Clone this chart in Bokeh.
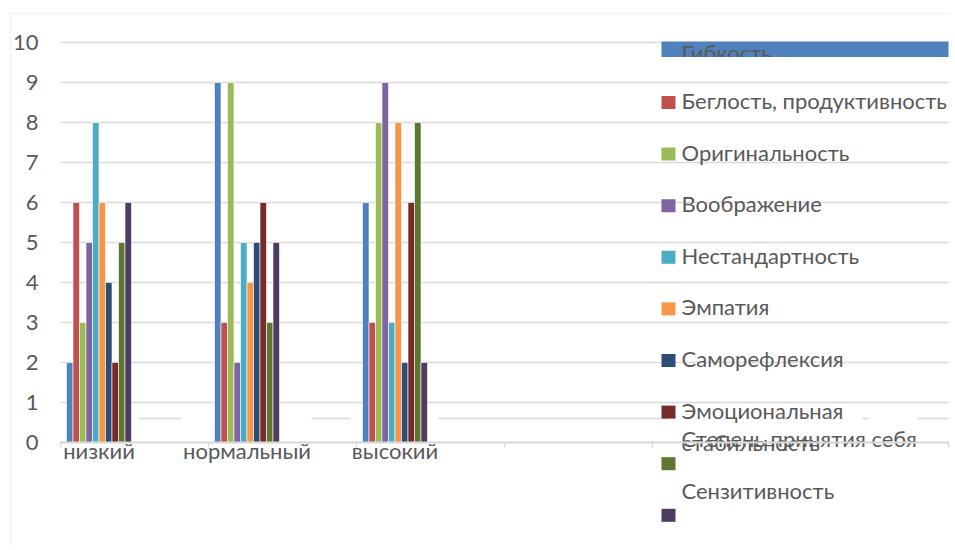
from bokeh.plotting import figure
from bokeh.models import Range1d, FixedTicker, BoxAnnotation, Label, ColumnDataSource
from bokeh.transform import dodge
from bokeh.embed import file_html
from bokeh.resources import INLINE

# ---------------- data ----------------
categories = ["низкий", "нормальный", "высокий"]
series_names = [
    "Гибкость",
    "Беглость, продуктивность",
    "Оригинальность",
    "Воображение",
    "Нестандартность",
    "Эмпатия",
    "Саморефлексия",
    "Эмоциональная стабильность",
    "Степень принятия себя",
    "Сензитивность",
]
gibkost = [2, 9, 6]
beglost = [6, 3, 3]
originalnost = [3, 9, 8]
voobrazhenie = [5, 2, 9]
nestandartnost = [8, 5, 3]
empatiya = [6, 4, 8]
samorefleksiya = [4, 5, 2]
emoc_stabilnost = [2, 6, 6]
prinyatie_sebya = [5, 3, 8]
senzitivnost = [6, 5, 2]
y_ticks = [0, 1, 2, 3, 4, 5, 6, 7, 8, 9, 10]

series_values = [gibkost, beglost, originalnost, voobrazhenie, nestandartnost,
                 empatiya, samorefleksiya, emoc_stabilnost, prinyatie_sebya, senzitivnost]
colors = ["#4F81BD", "#C0504D", "#9BBB59", "#8064A2", "#4BACC6",
          "#F79646", "#2C4D75", "#772C2A", "#5F7530", "#4D3B62"]

# ---------------- styling / layout ----------------
FONT = "Lato"
FS = "22px"
TXT = "#595959"
GRID = "#d9d9d9"

W, H = 950, 545
PLOT_LEFT, PLOT_RIGHT = 60, 948      # pixel extent of the plot area
ZERO_Y, PX_PER_UNIT = 442, 40.0      # pixel row of value 0, pixels per unit
FIRST_CAT_X, PX_PER_CAT = 98.5, 148.0


def dx(px):
    return (px - FIRST_CAT_X) / PX_PER_CAT


def dy(py):
    return (ZERO_Y - py) / PX_PER_UNIT


x_start, x_end = dx(0), dx(W)
y_start, y_end = dy(H), dy(0)
BAR_W = 6.5 / PX_PER_CAT

p = figure(width=W, height=H, output_backend="svg", toolbar_location=None,
           x_range=Range1d(x_start, x_end), y_range=Range1d(y_start, y_end),
           min_border_left=0, min_border_right=0, min_border_top=0, min_border_bottom=0)
p.outline_line_color = None
p.background_fill_color = "white"
p.border_fill_color = "white"
p.xgrid.visible = False
p.ygrid.visible = False

# gridlines limited to the plot area
p.segment(x0=[dx(PLOT_LEFT)] * len(y_ticks), x1=[dx(PLOT_RIGHT)] * len(y_ticks),
          y0=y_ticks, y1=y_ticks, line_color=GRID, line_width=1.6)

# stray rendering artefact lines of the original chart
artefact_px = [(138, 181), (311, 350), (438, 668), (862, 868), (917, 948)]
p.segment(x0=[dx(a) for a, b in artefact_px], x1=[dx(b) for a, b in artefact_px],
          y0=[dy(418)] * len(artefact_px), y1=[dy(418)] * len(artefact_px),
          line_color=GRID, line_width=1.6)

src = ColumnDataSource(dict(idx=list(range(len(categories))),
                            **{f"s{i}": v for i, v in enumerate(series_values)}))
n = len(series_names)
for i, (name, col) in enumerate(zip(series_names, colors)):
    off = (i - (n - 1) / 2) * BAR_W
    p.vbar(x=dodge("idx", off, range=p.x_range), top=f"s{i}", width=BAR_W, bottom=0,
           source=src, fill_color=col, line_color="white", line_width=0.6)

# y axis
p.yaxis.fixed_location = dx(PLOT_LEFT)
p.yaxis.bounds = (0, 10)
p.yaxis.ticker = FixedTicker(ticks=y_ticks)
p.yaxis.axis_line_color = None
p.yaxis.major_tick_line_color = None
p.yaxis.minor_tick_line_color = None
p.yaxis.major_label_standoff = 16
p.yaxis.major_label_text_font = FONT
p.yaxis.major_label_text_font_size = FS
p.yaxis.major_label_text_color = TXT

# x axis
boundaries = [dx(PLOT_LEFT) + k for k in range(7)]
p.xaxis.fixed_location = 0
p.xaxis.bounds = (dx(PLOT_LEFT), dx(PLOT_RIGHT))
p.xaxis.ticker = FixedTicker(ticks=list(range(len(categories))), minor_ticks=boundaries)
p.xaxis.major_label_overrides = {i: c for i, c in enumerate(categories)}
p.xaxis.axis_line_color = GRID
p.xaxis.axis_line_width = 2
p.xaxis.major_tick_line_color = None
p.xaxis.minor_tick_line_color = GRID
p.xaxis.minor_tick_line_width = 1.5
p.xaxis.minor_tick_out = 5
p.xaxis.minor_tick_in = 0
p.xaxis.major_label_standoff = -12
p.xaxis.major_label_text_font = FONT
p.xaxis.major_label_text_font_size = FS
p.xaxis.major_label_text_color = TXT
p.xaxis.level = "overlay"


def sy(py):
    return H - py


def box(left, right, top, bottom, **kw):
    return BoxAnnotation(left=left, right=right, top=sy(top), bottom=sy(bottom),
                         left_units="screen", right_units="screen",
                         top_units="screen", bottom_units="screen", **kw)


# chart border (light gray frame around the chart object)
p.add_layout(box(10, W + 50, 13, H + 50, fill_alpha=0, line_color=GRID, line_width=2,
                 level="underlay"))

# legend (drawn manually to reproduce the reference layout)
LEG_X, SQ_W, SQ_H = 661, 14, 13
ROW0, ROW_STEP = 50.4, 51.6
TEXT_X = 681


def leg_label(text, center):
    p.add_layout(Label(x=TEXT_X, y=sy(center), x_units="screen", y_units="screen",
                       text=text, text_font=FONT, text_font_size=FS, text_color=TXT,
                       text_baseline="middle", text_align="left"))


for i, (name, col) in enumerate(zip(series_names, colors)):
    c = ROW0 + ROW_STEP * i
    if i == 0:
        p.add_layout(box(LEG_X, PLOT_RIGHT, 41, 56.5, fill_color=col, fill_alpha=1, line_color=None))
        leg_label(name, 51.5)
        p.add_layout(box(678, 800, 56.5, 72, fill_color="white", fill_alpha=1, line_color=None,
                         level="overlay"))
        continue
    p.add_layout(box(LEG_X, LEG_X + SQ_W, c - SQ_H / 2, c + SQ_H / 2,
                     fill_color=col, fill_alpha=1, line_color=None))
    if i == 7:
        first, second = name.split(" ")
        leg_label(first, c - 2)
        leg_label(second, 441.5)
    elif i == 8:
        leg_label(name, 437.5)
    elif i == 9:
        leg_label(name, 489.5)
    else:
        leg_label(name, c - 2)

open("out.html", "w").write(file_html(p, INLINE))
